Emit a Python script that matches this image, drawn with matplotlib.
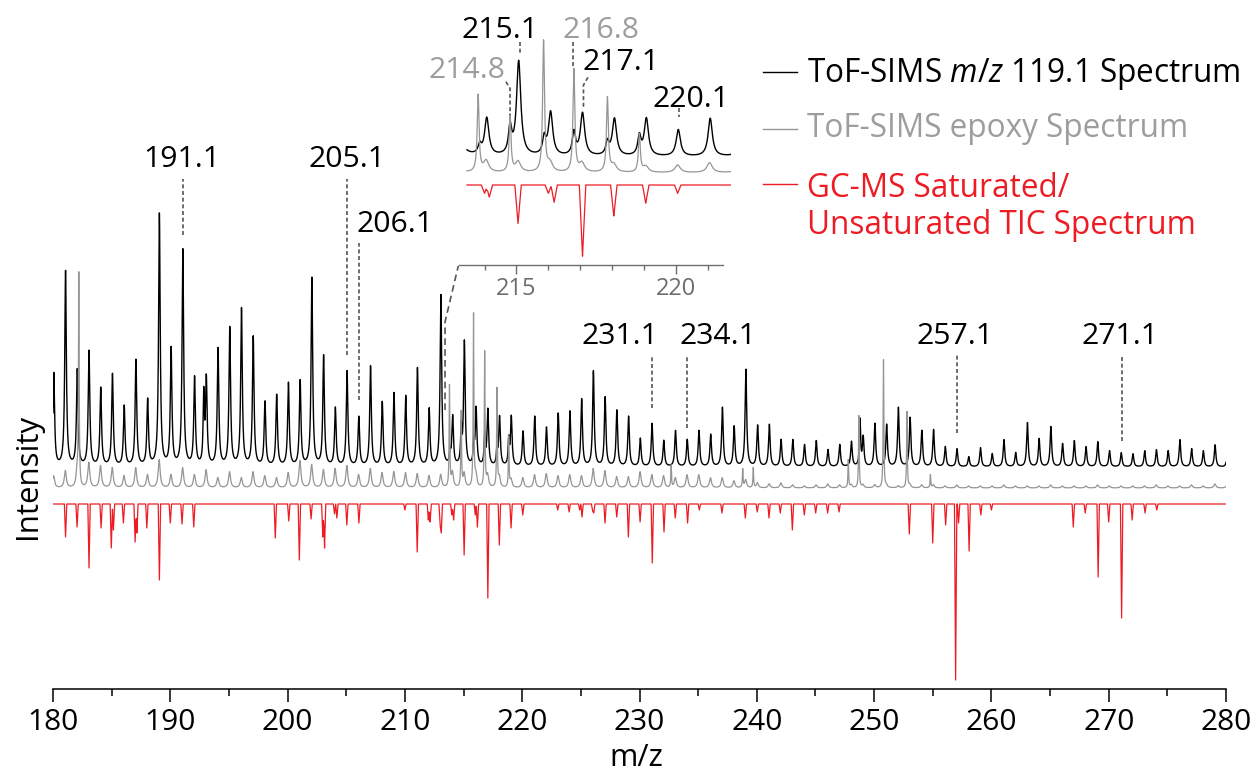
import numpy as np
import matplotlib
matplotlib.use("Agg")
import matplotlib.pyplot as plt
from matplotlib.lines import Line2D

plt.rcParams['font.family'] = ['Open Sans', 'DejaVu Sans']
plt.rcParams['mathtext.fontset'] = 'custom'
plt.rcParams['mathtext.rm'] = 'Open Sans'
plt.rcParams['mathtext.it'] = 'Open Sans:italic'

# nominal masses covered by the ToF-SIMS spectra
nominal = np.arange(180, 281)

# ToF-SIMS m/z 119.1 spectrum, peak intensity at each nominal mass (a.u.)
tof119 = [93, 195, 96, 115, 78, 92, 60, 106, 66, 252,
          117, 216, 88, 86, 117, 138, 157, 129, 64, 71,
          83, 85, 188, 110, 58, 95, 49, 100, 64, 73,
          70, 98, 57, 171, 49, 124, 57, 56, 49, 49,
          35, 50, 39, 53, 55, 67, 95, 69, 56, 50,
          28, 43, 26, 36, 27, 36, 32, 59, 40, 97,
          41, 42, 27, 27, 22, 26, 17, 22, 25, 29,
          43, 42, 59, 49, 36, 37, 20, 18, 10, 19,
          13, 27, 14, 44, 28, 40, 23, 26, 20, 25,
          16, 14, 13, 16, 17, 16, 27, 18, 16, 22, 8]
tof119_extra_mz = [192.85, 213.85, 214.8, 215.87, 216.8, 217.85, 218.85, 248.8]
tof119_extra = [68, 12, 35, 22, 30, 17, 25, 46]

# ToF-SIMS epoxy spectrum
epoxy = [12, 17, 15, 25, 22, 20, 12, 20, 13, 28,
         13, 20, 13, 18, 10, 16, 10, 16, 12, 10,
         15, 27, 23, 18, 19, 22, 13, 19, 15, 16,
         15, 14, 12, 13, 15, 14, 12, 12, 10, 8,
         10, 13, 14, 12, 13, 12, 19, 17, 11, 11,
         16, 13, 12, 10, 13, 13, 10, 10, 7, 8,
         5, 4, 5, 3, 2, 3, 4, 3, 3, 3,
         3, 2, 2, 3, 3, 3, 2, 3, 2, 2,
         2, 3, 2, 2, 2, 3, 2, 2, 2, 3,
         2, 2, 2, 2, 3, 2, 2, 3, 2, 4, 2]
epoxy_spike_mz = [182.2, 213.8, 214.8, 215.85, 216.8, 217.85, 218.85, 232.7,
                  238.8, 239.7, 247.8, 248.7, 250.8, 252.8, 254.8]
epoxy_spike = [211, 101, 75, 172, 135, 98, 50, 22, 18, 20, 28, 72, 128, 76, 13]

# GC-MS saturated/unsaturated TIC spectrum (plotted downwards)
gcms_mz = [181.07, 182.05, 183.07, 184.1, 184.97, 185.15, 186.0, 187.0, 187.15, 188.0,
           189.07, 190.0, 191.0, 192.0, 198.95, 200.1, 201.0, 202.0, 203.0, 203.15,
           204.0, 204.2, 205.05, 206.08, 210.0, 211.05, 212.0, 212.15, 213.0, 213.1,
           214.0, 214.15, 215.05, 216.0, 216.18, 217.07, 218.05, 219.05, 220.05, 223.03,
           224.0, 224.9, 225.1, 226.0, 226.1, 227.06, 228.06, 229.05, 230.05, 231.09,
           232.09, 233.05, 234.1, 235.1, 237.03, 239.02, 240.04, 241.04, 242.0, 243.03,
           244.05, 245.02, 246.04, 247.01, 253.0, 255.0, 256.1, 256.95, 257.2, 258.1,
           259.1, 260.0, 266.98, 268.0, 269.1, 270.0, 271.1, 272.0, 273.1, 274.1]
gcms = [33, 23, 64, 24, 44, 26, 19, 38, 29, 24,
        76, 19, 20, 23, 34, 17, 56, 15, 33, 44,
        10, 14, 21, 19, 6, 48, 16, 18, 21, 29,
        11, 16, 51, 11, 23, 94, 41, 24, 11, 6,
        8, 6, 13, 7, 9, 19, 13, 33, 18, 59,
        28, 14, 19, 6, 9, 14, 8, 14, 9, 26,
        11, 9, 9, 8, 30, 39, 21, 176, 19, 47,
        11, 6, 23, 9, 73, 18, 114, 16, 9, 6]

BLACK = '#000000'
GREY = '#959595'
GREY_TXT = '#9d9d9d'
RED = '#ed1c24'
DASH = '#555555'

OFF_BLACK, OFF_GREY, OFF_RED = 222, 201, 185


def lorentz(x, centres, heights, gamma):
    c = np.asarray(centres)[:, None]
    h = np.asarray(heights)[:, None]
    return (h * gamma**2 / (gamma**2 + (x[None, :] - c)**2)).sum(axis=0)


def sticks(x, centres, heights, hw=0.1):
    c = np.asarray(centres)[:, None]
    h = np.asarray(heights)[:, None]
    return (h * np.clip(1 - np.abs(x[None, :] - c) / hw, 0, None)).sum(axis=0)


def curves(x):
    k = lorentz(x, nominal + 0.07, tof119, 0.08) + lorentz(x, tof119_extra_mz, tof119_extra, 0.06)
    g = lorentz(x, nominal + 0.05, epoxy, 0.1) + lorentz(x, epoxy_spike_mz, epoxy_spike, 0.035)
    r = sticks(x, gcms_mz, gcms)
    return OFF_BLACK + k, OFF_GREY + g, OFF_RED - r


W, H = 1257, 772
fig = plt.figure(figsize=(W / 100, H / 100), dpi=100)


def fx(px):
    return px / W


def fy(py):
    return 1 - py / H


# main panel
ax = fig.add_axes([fx(53), fy(689), 1173 / W, 689 / H])
x = np.linspace(180, 280, 20001)
yk, yg, yr = curves(x)
ax.plot(x, yk, color=BLACK, lw=1.0)
ax.plot(x, yg, color=GREY, lw=0.9)
ax.plot(x, yr, color=RED, lw=0.9)
ax.set_xlim(180, 280)
ax.set_ylim(0, 689)
for s in ['top', 'left', 'right']:
    ax.spines[s].set_visible(False)
ax.spines['bottom'].set_linewidth(1.1)
ax.set_yticks([])
ax.set_xticks(np.arange(180, 281, 10))
ax.set_xticks(np.arange(185, 280, 10), minor=True)
ax.tick_params(axis='x', which='major', length=9.5, width=1.1, labelsize=21.5, pad=4)
ax.tick_params(axis='x', which='minor', length=5, width=1.1)
ax.patch.set_visible(False)

fig.text(fx(28), fy(476), 'Intensity', rotation=90, ha='center', va='center', fontsize=22.5)
fig.text(fx(636), fy(766), 'm/z', ha='center', va='baseline', fontsize=22)

# peak labels in the main panel
dash = dict(color=DASH, lw=1.2, ls=(0, (2.4, 1.6)))
main_labels = [
    ('191.1', 190.97, 522, 'center', 191.06, 454, 510),
    ('205.1', 205.04, 522, 'center', 205.04, 334, 510),
    ('206.1', 205.89, 457, 'left', 206.06, 289, 446),
    ('231.1', 228.3, 345, 'center', 231.09, 281, 334),
    ('234.1', 236.65, 345, 'center', 234.05, 261, 334),
    ('257.1', 256.9, 345, 'center', 257.04, 256, 334),
    ('271.1', 270.99, 345, 'center', 271.11, 248, 334),
]
for txt, tx, ty, ha, lx, y0, y1 in main_labels:
    ax.text(tx, ty, txt, ha=ha, va='baseline', fontsize=21.7)
    ax.plot([lx, lx], [y0, y1], **dash)

# connector to the inset
ax.plot([213.42, 213.42, 214.55], [279, 367, 423], color=DASH, lw=1.2,
        ls=(0, (4, 2.5)), clip_on=False)

# inset
ins = fig.add_axes([fx(459.3), fy(265.3), 264 / W, 235.3 / H])
xi = np.linspace(213.45, 221.7, 4001)
ik, ig, ir = curves(xi)
ins.plot(xi, ik, color=BLACK, lw=1.0, clip_on=False)
ins.plot(xi, ig, color=GREY, lw=0.9, clip_on=False)
ins.plot(xi, ir, color=RED, lw=0.9, clip_on=False)
ins.set_xlim(213.21, 221.48)
ins.set_ylim(79.3, 389)
ins.patch.set_visible(False)
for s in ['top', 'left', 'right']:
    ins.spines[s].set_visible(False)
ins.spines['bottom'].set_color('#6d6d6d')
ins.spines['bottom'].set_linewidth(1.0)
ins.set_yticks([])
ins.set_xticks([215, 220])
ins.set_xticks([214, 216, 217, 218, 219, 221], minor=True)
ins.tick_params(axis='x', which='major', length=6.3, width=1.0, color='#6d6d6d',
                labelcolor='#6d6d6d', labelsize=17, pad=2)
ins.tick_params(axis='x', which='minor', length=3.4, width=1.0, color='#6d6d6d')

inset_labels = [
    ('215.1', 214.49, 378, BLACK, [215.1, 215.1], [373.6, 358.4]),
    ('214.8', 213.45, 325.4, GREY_TXT, [214.67, 214.8, 214.8], [320.9, 312.2, 277.1]),
    ('216.8', 217.66, 378, GREY_TXT, [216.78, 216.78], [373.6, 340.7]),
    ('217.1', 218.28, 336.3, BLACK, [217.24, 217.1, 217.1], [326.7, 316.6, 288]),
    ('220.1', 220.46, 288, BLACK, [220.09, 220.09], [285.9, 274.9]),
]
for txt, tx, ty, col, lxs, lys in inset_labels:
    ins.text(tx, ty, txt, ha='center', va='baseline', fontsize=21.7, color=col, clip_on=False)
    ins.plot(lxs, lys, clip_on=False, **dash)

# legend
legend = [
    ('ToF-SIMS $\\mathit{m/z}$ 119.1 Spectrum', BLACK, BLACK, [81.7], 72.3),
    ('ToF-SIMS epoxy Spectrum', GREY, GREY_TXT, [137.3], 129.3),
    ('GC-MS Saturated/\nUnsaturated TIC Spectrum', RED, RED, [197, 234], 184),
]
for label, lc, tc, bases, ly in legend:
    fig.add_artist(Line2D([fx(763), fx(797)], [fy(ly), fy(ly)], color=lc, lw=1.0))
    for part, b in zip(label.split('\n'), bases):
        fig.text(fx(806.7), fy(b), part, ha='left', va='baseline', fontsize=22.7, color=tc)

fig.savefig('out.png', dpi=100)
